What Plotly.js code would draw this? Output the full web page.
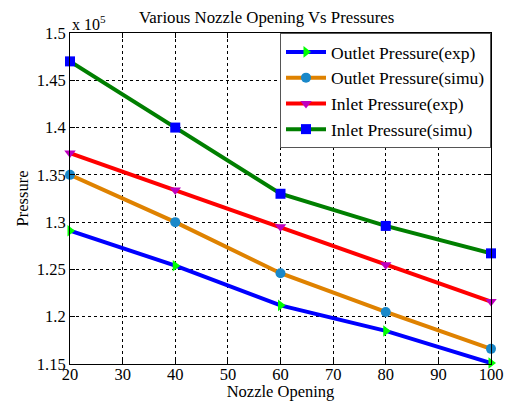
<!DOCTYPE html>
<html>
<head>
<meta charset="utf-8">
<script src="https://cdn.plot.ly/plotly-3.0.1.min.js"></script>
<style>html,body{margin:0;padding:0;background:#fff;}#chart{width:506px;height:401px;}</style>
</head>
<body>
<div id="chart"></div>
<script>
// Nozzle opening (x) and pressures in units of 10^5
const nozzleOpening = [20, 40, 60, 80, 100];
const outletExp  = [1.291, 1.254, 1.212, 1.185, 1.151];
const outletSimu = [1.350, 1.300, 1.246, 1.205, 1.166];
const inletExp   = [1.373, 1.334, 1.295, 1.255, 1.216];
const inletSimu  = [1.470, 1.400, 1.330, 1.296, 1.267];
const seriesNames = ['Outlet Pressure(exp)', 'Outlet Pressure(simu)', 'Inlet Pressure(exp)', 'Inlet Pressure(simu)'];
const yTickVals = [1.15, 1.2, 1.25, 1.3, 1.35, 1.4, 1.45, 1.5];
const yTickText = ['1.15', '1.2', '1.25', '1.3', '1.35', '1.4', '1.45', '1.5'];
const xTickVals = [20, 30, 40, 50, 60, 70, 80, 90, 100];

const FONT = 'Liberation Serif, Times New Roman, serif';

function tr(y, name, lineColor, sym, mColor) {
  return {
    x: nozzleOpening, y: y, name: name, type: 'scatter', mode: 'lines+markers',
    line: {color: lineColor, width: 4},
    marker: {symbol: sym, color: mColor, size: 10, line: {width: 0}},
    cliponaxis: false
  };
}

const data = [
  tr(outletExp, seriesNames[0], '#0000ff', 'triangle-right', '#00ff00'),
  tr(outletSimu, seriesNames[1], '#df8200', 'circle', '#1a88c9'),
  tr(inletExp, seriesNames[2], '#ff0000', 'triangle-down', '#bf00bf'),
  tr(inletSimu, seriesNames[3], '#007f00', 'square', '#0000ff')
];

const axisCommon = {
  showline: true, linecolor: '#000', linewidth: 1, mirror: 'ticks',
  ticks: 'inside', ticklen: 5, tickcolor: '#000',
  showgrid: true, gridcolor: '#000', gridwidth: 1, griddash: '3px,3px',
  zeroline: false, tickfont: {family: FONT, size: 16.5, color: '#000'}
};

const layout = {
  width: 506, height: 401,
  margin: {l: 70, r: 15, t: 33, b: 37},
  paper_bgcolor: '#fff', plot_bgcolor: '#fff',
  font: {family: FONT, size: 16, color: '#000'},
  title: {text: 'Various Nozzle Opening Vs Pressures', x: 0.527, xanchor: 'center', y: 0.958, yanchor: 'middle', font: {family: FONT, size: 16.8, color: '#000'}},
  xaxis: Object.assign({}, axisCommon, {
    range: [20, 100], tickvals: xTickVals, ticklabelstandoff: -5,
    title: {text: 'Nozzle Opening', font: {family: FONT, size: 16.5}, standoff: 6}
  }),
  yaxis: Object.assign({}, axisCommon, {
    range: [1.15, 1.5], tickvals: yTickVals, ticktext: yTickText,
    title: {text: 'Pressure', font: {family: FONT, size: 16.5}, standoff: 4}
  }),
  showlegend: true,
  legend: {
    x: 1, xanchor: 'right', y: 1, yanchor: 'top',
    bgcolor: '#fff', bordercolor: '#555', borderwidth: 1,
    font: {family: FONT, size: 17.5, color: '#000'},
    tracegroupgap: 0, itemwidth: 40
  },
  annotations: [{
    text: 'x 10<sup>5</sup>', xref: 'paper', yref: 'paper', x: 0, y: 1, xanchor: 'left', yanchor: 'bottom',
    showarrow: false, font: {family: FONT, size: 16, color: '#000'}, yshift: -2
  }]
};

Plotly.newPlot('chart', data, layout, {displayModeBar: false, staticPlot: true});
</script>
</body>
</html>
